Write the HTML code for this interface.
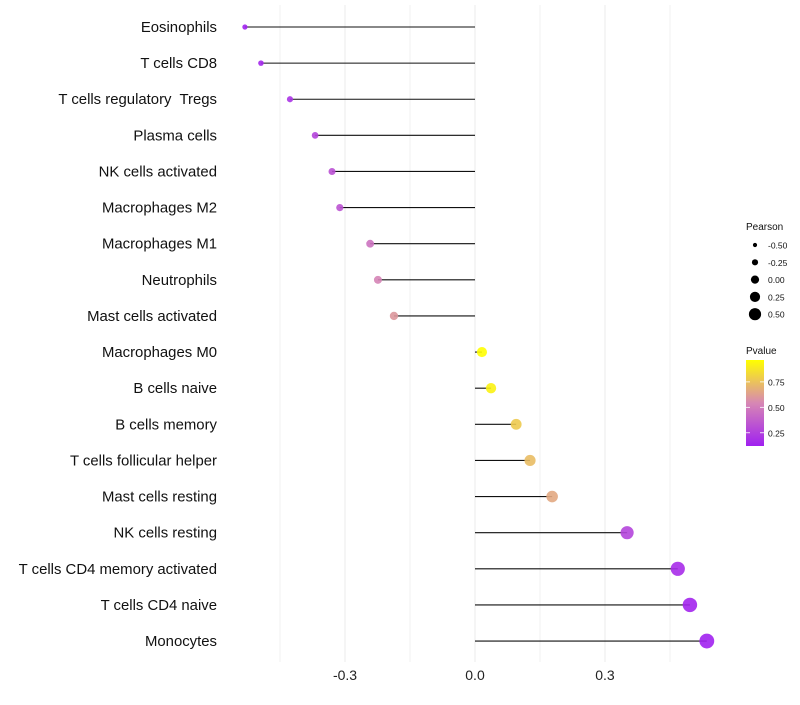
<!DOCTYPE html>
<html><head><meta charset="utf-8"><style>
body{margin:0;background:#fff;font-family:"Liberation Sans",sans-serif}
text{white-space:pre}
</style></head><body>
<svg id="chart" width="800" height="700" xmlns="http://www.w3.org/2000/svg"></svg>
<script>
const categories=["Eosinophils","T cells CD8","T cells regulatory  Tregs","Plasma cells","NK cells activated","Macrophages M2","Macrophages M1","Neutrophils","Mast cells activated","Macrophages M0","B cells naive","B cells memory","T cells follicular helper","Mast cells resting","NK cells resting","T cells CD4 memory activated","T cells CD4 naive","Monocytes"];
const pearson=[-0.531,-0.494,-0.427,-0.369,-0.330,-0.312,-0.242,-0.224,-0.187,0.016,0.037,0.095,0.127,0.178,0.351,0.468,0.496,0.535];
const pvalues=[0.13,0.15,0.2,0.27,0.32,0.33,0.46,0.53,0.6,0.96,0.92,0.78,0.73,0.66,0.27,0.17,0.14,0.13];
const xTicks=[-0.3,0,0.3];
const xTickLabels=["-0.3","0.0","0.3"];
const xMinor=[-0.45,-0.15,0.15,0.45];
const sizeLegendValues=[-0.5,-0.25,0,0.25,0.5];
const sizeLegendLabels=["-0.50","-0.25","0.00","0.25","0.50"];
const pLegendValues=[0.25,0.5,0.75];
const pLegendLabels=["0.25","0.50","0.75"];

const svg=document.getElementById('chart');
const NS="http://www.w3.org/2000/svg";
function el(t,a,p){const e=document.createElementNS(NS,t);for(const k in a)e.setAttribute(k,a[k]);(p||svg).appendChild(e);return e;}
const x=v=>475+v*433.3;
const y=i=>27+i*36.12;
const r=v=>Math.max(2,5+4.5*v);
const rl=v=>Math.max(1.5,4.1+4*v);
const pMin=0.12,pMax=0.965;
const cA=[160,32,240],cM=[215,135,180],cB=[255,255,0];
function col(p){let t=(p-pMin)/(pMax-pMin);t=Math.max(0,Math.min(1,t));
let a,b,u;if(t<0.5){a=cA;b=cM;u=t*2;}else{a=cM;b=cB;u=(t-0.5)*2;}
return `rgb(${a.map((c,i)=>Math.round(c+(b[i]-c)*u)).join(',')})`;}

for(const v of xMinor){const g=el('line',{x1:x(v),x2:x(v),y1:5,y2:662,stroke:'#f0f0f0','stroke-width':1});
}
xTicks.forEach((v,i)=>{const g=el('line',{x1:x(v),x2:x(v),y1:5,y2:662,stroke:'#ebebeb','stroke-width':1});

const t=el('text',{x:x(v),y:680,'text-anchor':'middle','font-size':14,fill:'#222'});t.textContent=xTickLabels[i];
});

categories.forEach((c,i)=>{
const t=el('text',{x:217,y:y(i)+5,'text-anchor':'end','font-size':14.9,fill:'#111'});t.textContent=c;

const l=el('line',{x1:x(0),x2:x(pearson[i]),y1:y(i),y2:y(i),stroke:'#111','stroke-width':1.1});

const d=el('circle',{cx:x(pearson[i]),cy:y(i),r:r(pearson[i]),fill:col(pvalues[i]),'fill-opacity':0.9});

});

const lt=el('text',{x:746,y:230,'font-size':10,fill:'#111'});lt.textContent='Pearson';

sizeLegendValues.forEach((v,i)=>{const yy=245+i*17.3;
const c=el('circle',{cx:755,cy:yy,r:rl(v),fill:'#000'});
const t=el('text',{x:768,y:yy+3.5,'font-size':8.5,fill:'#111'});t.textContent=sizeLegendLabels[i];
});

const pt=el('text',{x:746,y:354,'font-size':10,fill:'#111'});pt.textContent='Pvalue';

const defs=el('defs',{});const gr=el('linearGradient',{id:'pg',x1:0,y1:1,x2:0,y2:0},defs);
for(let k=0;k<=10;k++){el('stop',{offset:k/10,'stop-color':col(pMin+(pMax-pMin)*k/10)},gr);}
const yb=p=>446-(p-pMin)/(pMax-pMin)*86;
const bar=el('rect',{x:746,y:360,width:18,height:86,fill:'url(#pg)'});

pLegendValues.forEach((v,i)=>{
el('line',{x1:746,x2:750,y1:yb(v),y2:yb(v),stroke:'#fff','stroke-width':0.8});el('line',{x1:760,x2:764,y1:yb(v),y2:yb(v),stroke:'#fff','stroke-width':0.8});
const t=el('text',{x:768,y:yb(v)+3.5,'font-size':8.5,fill:'#111'});t.textContent=pLegendLabels[i];
});
</script>
</body></html>
